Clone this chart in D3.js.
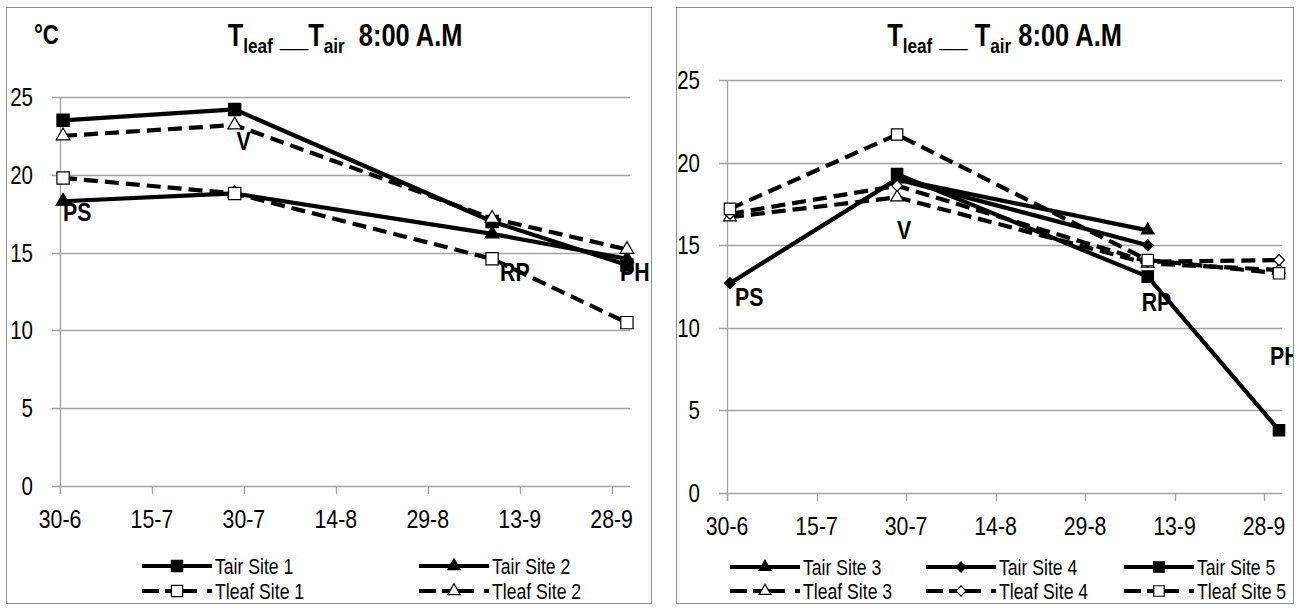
<!DOCTYPE html>
<html><head><meta charset="utf-8">
<script src="https://cdn.jsdelivr.net/npm/d3@7"></script>
<style>body{margin:0;background:#fff} svg{display:block}</style>
</head><body>
<svg id="c" width="1301" height="608"></svg>
<script>
// ---------- data ----------
const tickLabels  = ["30-6","15-7","30-7","14-8","29-8","13-9","28-9"];
const sampleDates = ["30-6","28-7","8-9","30-9"];
const stageLabels = ["PS","V","RP","PH"];
const yTicks      = [0,5,10,15,20,25];

// left panel
const tairSite1  = [23.5, 24.2, 17.0, 14.2];
const tairSite2  = [18.3, 18.8, 16.2, 14.6];
const tleafSite1 = [19.8, 18.8, 14.6, 10.5];
const tleafSite2 = [22.5, 23.2, 17.2, 15.2];
// right panel
const tairSite3  = [null, 19.0, 15.9, null];
const tairSite4  = [12.7, 19.0, 15.0, null];
const tairSite5  = [null, 19.3, 13.1, 3.8];
const tleafSite3 = [16.7, 17.9, 13.9, 13.5];
const tleafSite4 = [16.9, 18.6, 14.0, 14.1];
const tleafSite5 = [17.2, 21.7, 14.1, 13.3];

// ---------- helpers ----------
const FN = "'Liberation Sans Narrow','Arial Narrow','Liberation Sans',Arial,sans-serif";
const SX = 0.82; // condensed look (Arial Narrow)
const parseDay = s => d3.utcParse("%d-%m-%Y")(s + "-2012");
const svg = d3.select("#c");
const tr = (x, y) => `translate(${x},${y}) scale(${SX},1)`;

const SYM = {
  square:   {type: d3.symbolSquare,   rot: 0},
  triangle: {type: d3.symbolTriangle, rot: 0},
  diamond:  {type: d3.symbolSquare,   rot: 45}
};

function marker(g, shape, size, filled, cx, cy) {
  g.append("path")
    .attr("d", d3.symbol().type(SYM[shape].type).size(size)())
    .attr("transform", `translate(${cx},${cy}) rotate(${SYM[shape].rot})`)
    .attr("fill", filled ? "#000" : "#fff")
    .attr("stroke", "#000")
    .attr("stroke-width", 1.2);
}

function drawPanel(cfg) {
  const g = svg.append("g");
  const clipId = "clip" + cfg.id;
  svg.append("defs").append("clipPath").attr("id", clipId)
    .append("rect").attr("x", cfg.bx0).attr("y", cfg.by0)
    .attr("width", cfg.bx1 - cfg.bx0).attr("height", cfg.by1 - cfg.by0);

  g.append("rect")
    .attr("x", cfg.bx0 + 0.5).attr("y", cfg.by0 + 0.5)
    .attr("width", cfg.bx1 - cfg.bx0).attr("height", cfg.by1 - cfg.by0)
    .attr("fill", "#fff").attr("stroke", "#8f8f8f").attr("stroke-width", 1);

  const start = parseDay(tickLabels[0]);
  const end = d3.utcDay.offset(parseDay(sampleDates[sampleDates.length - 1]), 1);
  const x = d3.scaleUtc().domain([start, end]).range([cfg.x0, cfg.x1]);
  const y = d3.scaleLinear().domain([0, 25]).range([cfg.yb, cfg.yt]);
  const px = i => x(d3.utcHour.offset(parseDay(sampleDates[i]), 12));

  // gridlines (also y ticks)
  g.selectAll(".grid").data(yTicks).enter().append("line")
    .attr("x1", cfg.x0 - 8).attr("x2", cfg.x1)
    .attr("y1", d => Math.round(y(d)) + 0.5).attr("y2", d => Math.round(y(d)) + 0.5)
    .attr("stroke", "#a3a3a3").attr("stroke-width", 1.3);
  // y axis line
  g.append("line").attr("x1", cfg.x0 + 0.5).attr("x2", cfg.x0 + 0.5)
    .attr("y1", y(25)).attr("y2", y(0) + 8)
    .attr("stroke", "#a3a3a3").attr("stroke-width", 1.3);
  // y labels
  g.selectAll(".yl").data(yTicks).enter().append("text")
    .attr("transform", d => tr(cfg.x0 - 27, y(d)))
    .attr("dy", "0.36em").attr("text-anchor", "end")
    .attr("font-family", FN).attr("font-size", 25).attr("fill", "#000")
    .text(d => d);
  // x ticks + labels
  const tv = tickLabels.map(parseDay);
  g.selectAll(".xt").data(tv).enter().append("line")
    .attr("x1", d => Math.round(x(d)) + 0.5).attr("x2", d => Math.round(x(d)) + 0.5)
    .attr("y1", y(0)).attr("y2", y(0) + 8)
    .attr("stroke", "#a3a3a3").attr("stroke-width", 1.3);
  g.selectAll(".xl").data(tv).enter().append("text")
    .attr("transform", d => tr(x(d), y(0) + 42))
    .attr("text-anchor", "middle")
    .attr("font-family", FN).attr("font-size", 26).attr("fill", "#000")
    .text((d, i) => tickLabels[i]);

  // title
  const cx = (cfg.x0 + cfg.x1) / 2;
  const t = g.append("text").attr("transform", tr(cx, cfg.titleY))
    .attr("text-anchor", "middle").attr("font-family", FN)
    .attr("font-weight", "bold").attr("font-size", 31).attr("fill", "#000")
    .style("white-space", "pre");
  t.append("tspan").text("T");
  t.append("tspan").attr("font-size", 21).attr("dy", 7).text("leaf");
  t.append("tspan").attr("dy", -7).text(cfg.mid);
  t.append("tspan").text("T");
  t.append("tspan").attr("font-size", 21).attr("dy", 7).text("air");
  t.append("tspan").attr("dy", -7).text(cfg.tail);
  if (cfg.unit) {
    g.append("text").attr("transform", tr(cfg.unitX, cfg.titleY - 2))
      .attr("font-family", FN).attr("font-weight", "bold").attr("font-size", 27)
      .text(cfg.unit);
  }

  // series
  const line = d3.line().defined(d => d.v != null).x(d => d.x).y(d => y(d.v));
  cfg.series.forEach(s => {
    const pts = s.values.map((v, i) => ({v, x: px(i)}));
    g.append("path").datum(pts).attr("d", line)
      .attr("fill", "none").attr("stroke", "#000")
      .attr("stroke-width", 4.2)
      .attr("stroke-linejoin", "round")
      .attr("stroke-dasharray", s.dashed ? "14,7" : null);
    pts.filter(p => p.v != null).forEach(p =>
      marker(g, s.shape, s.size, s.filled, p.x, y(p.v)));
  });

  // stage labels
  const lg = g.append("g").attr("clip-path", `url(#${clipId})`);
  stageLabels.forEach((lab, i) => {
    lg.append("text")
      .attr("transform", tr(px(i) + cfg.stageDx[i], y(cfg.stageY[i])))
      .attr("text-anchor", cfg.stageAnchor[i])
      .attr("font-family", FN).attr("font-weight", "bold").attr("font-size", 26)
      .attr("fill", "#000").text(lab);
  });

  // legend
  cfg.series.forEach((s, i) => {
    const col = cfg.legendOrder[i][0], row = cfg.legendOrder[i][1];
    const lx = cfg.legX[col], ly = cfg.legY[row];
    g.append("line").attr("x1", lx).attr("x2", lx + 70).attr("y1", ly).attr("y2", ly)
      .attr("stroke", "#000").attr("stroke-width", 4.2)
      .attr("stroke-dasharray", s.dashed ? "17,6,32,10,5,100" : null);
    marker(g, s.shape, s.size * 0.85, s.filled, lx + 35, ly);
    g.append("text").attr("transform", tr(lx + 73, ly)).attr("dy", "0.36em")
      .attr("font-family", FN).attr("font-size", 21.5).attr("fill", "#000").text(s.name);
  });
}

drawPanel({
  id: "L", bx0: 6, by0: 7, bx1: 651, by1: 603,
  x0: 60, x1: 630, yb: 486, yt: 97, titleY: 46,
  mid: " __", tail: "  8:00 A.M", unit: "°C", unitX: 34,
  stageY: [17.0, 21.6, 13.2, 13.2], stageDx: [0, 9, 8, -7], stageAnchor: ["start","middle","start","start"],
  legX: [142, 419], legY: [566, 591],
  legendOrder: [[0,0],[1,0],[0,1],[1,1]],
  series: [
    {name: "Tair Site 1",  values: tairSite1,  dashed: false, shape: "square",   size: 150, filled: true},
    {name: "Tair Site 2",  values: tairSite2,  dashed: false, shape: "triangle", size: 80,  filled: true},
    {name: "Tleaf Site 1", values: tleafSite1, dashed: true,  shape: "square",   size: 150, filled: false},
    {name: "Tleaf Site 2", values: tleafSite2, dashed: true,  shape: "triangle", size: 80,  filled: false}
  ]
});

drawPanel({
  id: "R", bx0: 676, by0: 7, bx1: 1293, by1: 603,
  x0: 727, x1: 1282, yb: 493, yt: 80, titleY: 46,
  mid: " __ ", tail: " 8:00 A.M", unit: null,
  stageY: [11.3, 15.4, 11.0, 7.75], stageDx: [5, 7, -6, -9], stageAnchor: ["start","middle","start","start"],
  legX: [730, 926, 1124], legY: [567, 591],
  legendOrder: [[0,0],[1,0],[2,0],[0,1],[1,1],[2,1]],
  series: [
    {name: "Tair Site 3",  values: tairSite3,  dashed: false, shape: "triangle", size: 70,  filled: true},
    {name: "Tair Site 4",  values: tairSite4,  dashed: false, shape: "diamond",  size: 60,  filled: true},
    {name: "Tair Site 5",  values: tairSite5,  dashed: false, shape: "square",   size: 130, filled: true},
    {name: "Tleaf Site 3", values: tleafSite3, dashed: true,  shape: "triangle", size: 70,  filled: false},
    {name: "Tleaf Site 4", values: tleafSite4, dashed: true,  shape: "diamond",  size: 60,  filled: false},
    {name: "Tleaf Site 5", values: tleafSite5, dashed: true,  shape: "square",   size: 130, filled: false}
  ]
});
</script>
</body></html>
